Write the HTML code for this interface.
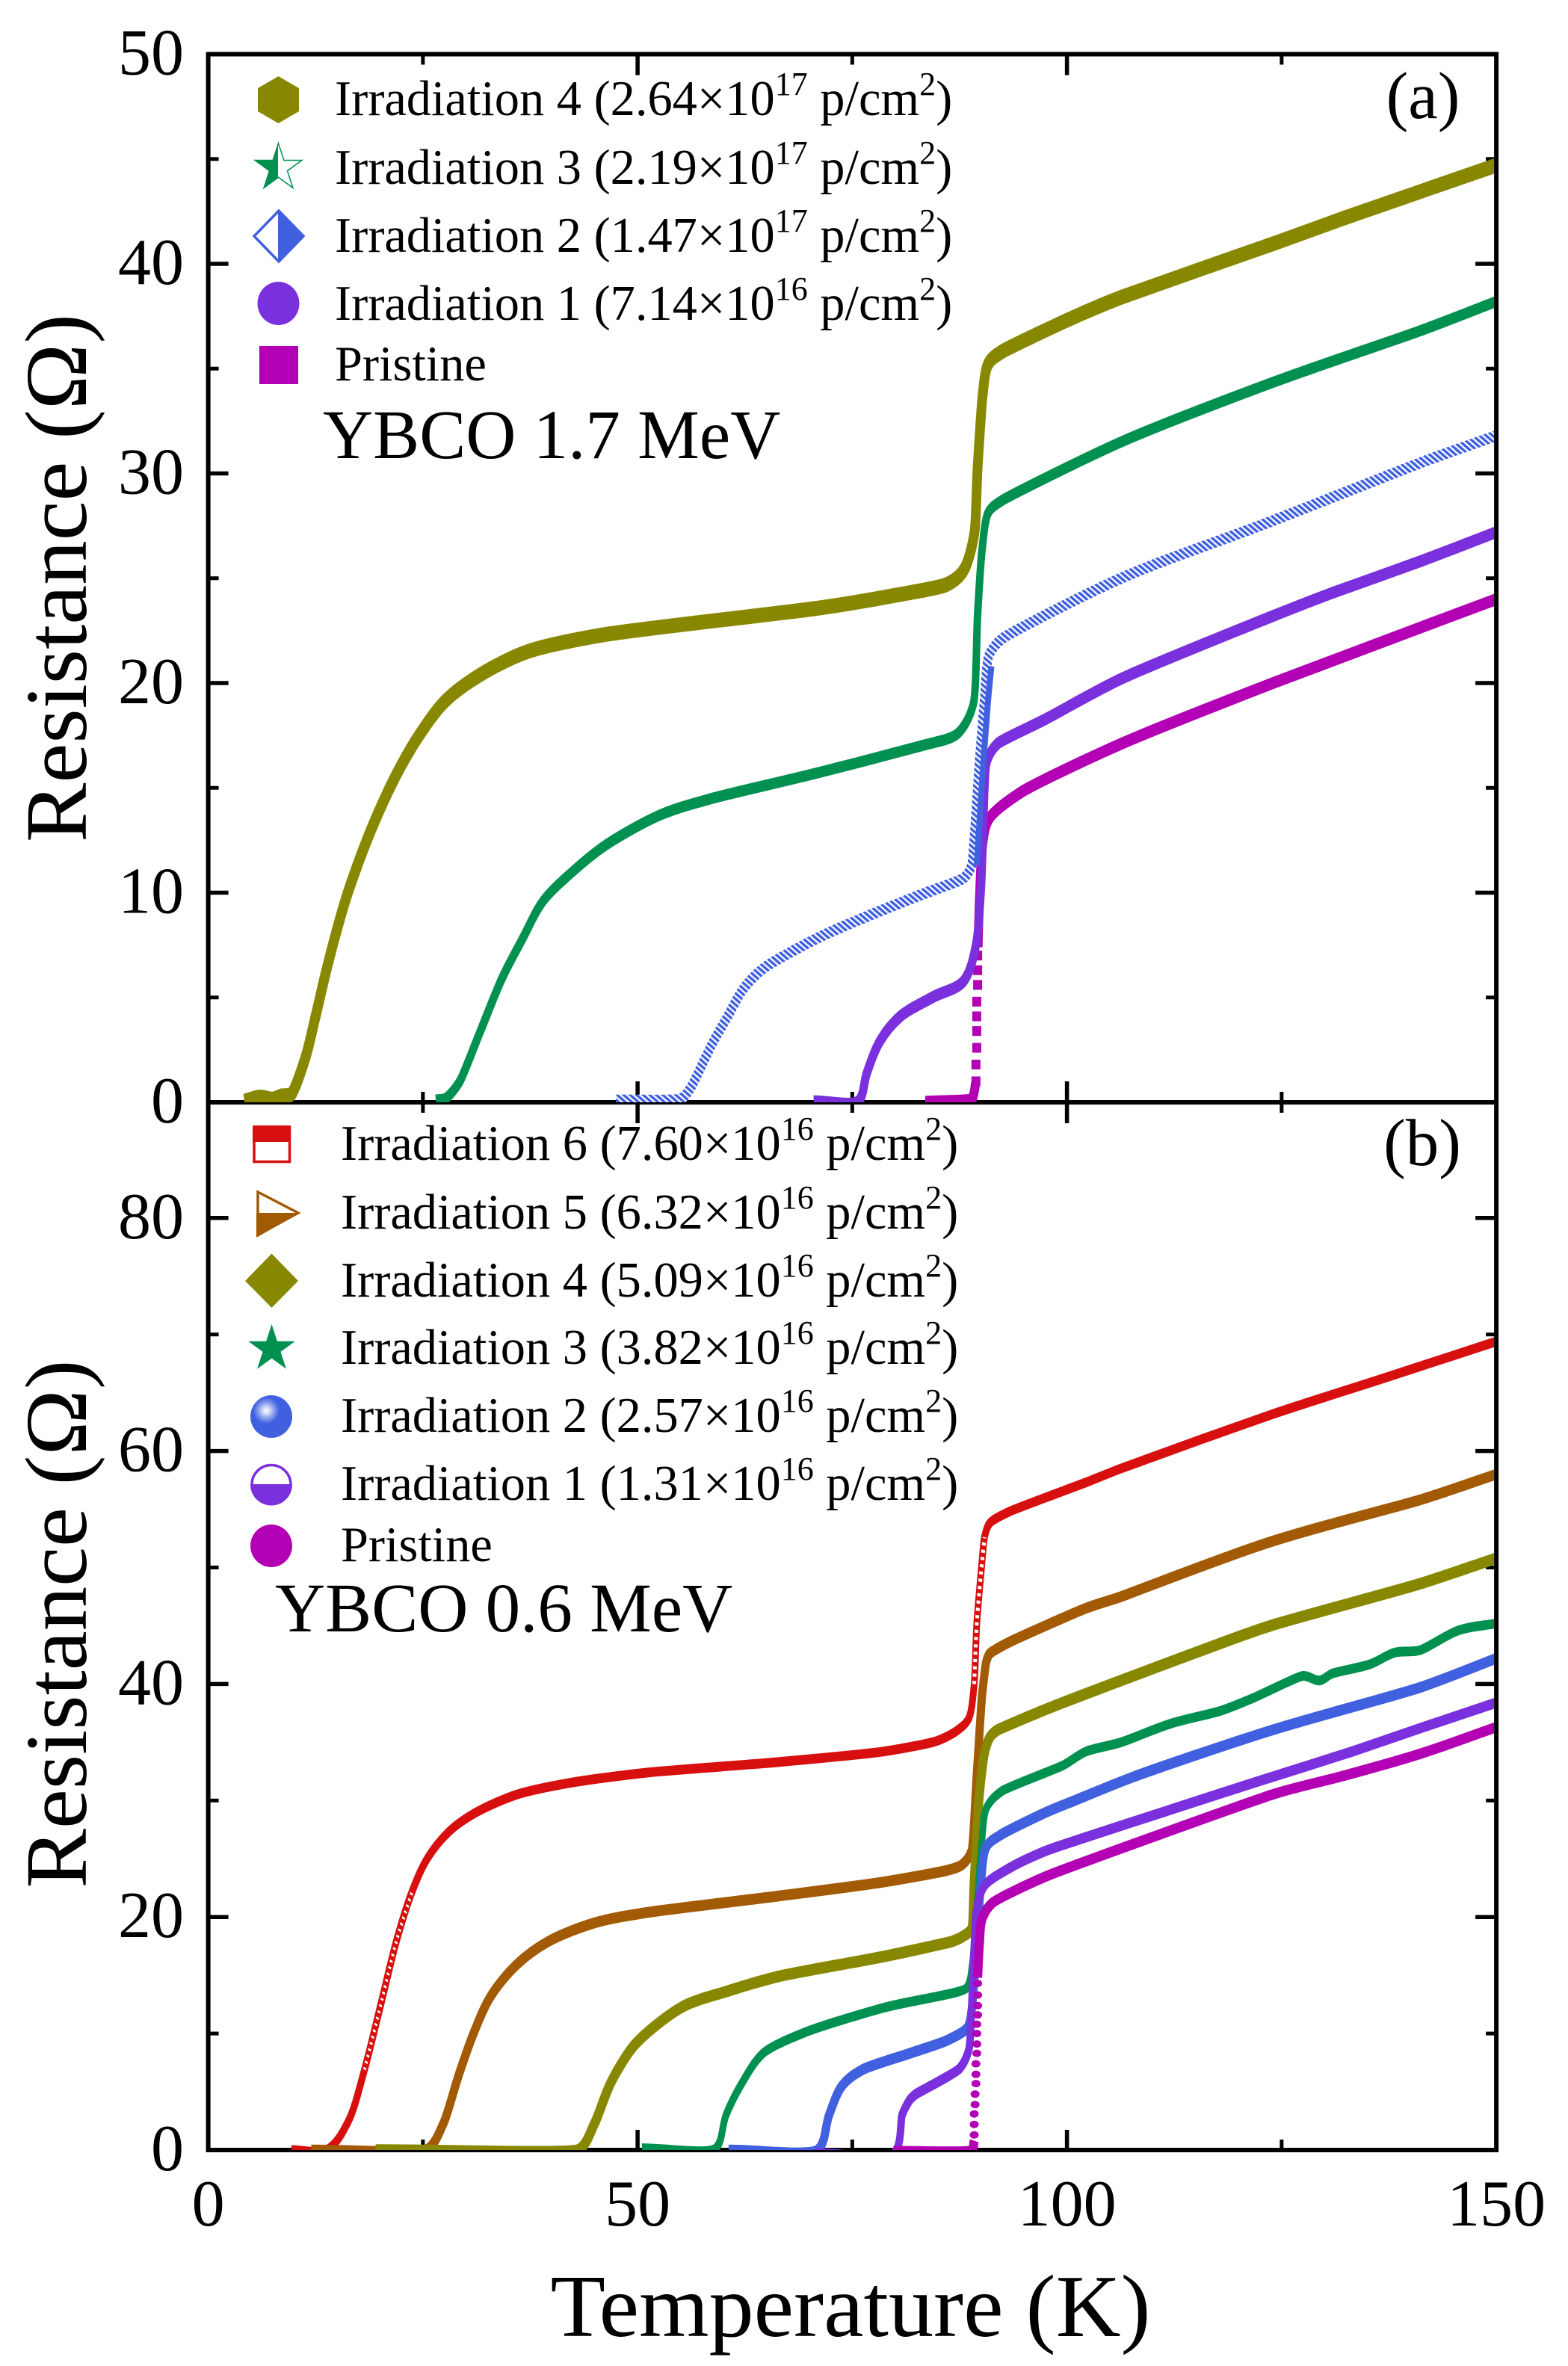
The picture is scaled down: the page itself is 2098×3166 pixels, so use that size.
<!DOCTYPE html>
<html lang="en">
<head>
<meta charset="utf-8">
<title>YBCO resistance vs temperature</title>
<style>
html,body{margin:0;padding:0;background:#fff;}
svg{display:block;}
text{font-family:"Liberation Serif","DejaVu Serif",serif;fill:#000;}
.leg{font-size:66.4px;}
</style>
</head>
<body>
<svg id="chart" xmlns="http://www.w3.org/2000/svg" width="2098" height="3166" viewBox="0 0 2098 3166">
<defs>
<pattern id="hatch" patternUnits="userSpaceOnUse" width="5" height="5" patternTransform="rotate(35)">
<rect width="5" height="5" fill="#fff"/>
<rect width="5" height="3" fill="#4060E0"/>
</pattern>
<clipPath id="clip-a"><rect x="281" y="75" width="1718" height="1400"/></clipPath>
<clipPath id="clip-b"><rect x="281" y="1478" width="1718" height="1399"/></clipPath>
<clipPath id="left-half-a"><rect x="330" y="180" width="42" height="80"/></clipPath>
<clipPath id="right-half-a"><rect x="372" y="270" width="42" height="90"/></clipPath>
<clipPath id="top-half-b"><rect x="330" y="1500" width="70" height="28"/></clipPath>
<clipPath id="bottom-half-tri"><rect x="340" y="1623" width="70" height="40"/></clipPath>
<clipPath id="bottom-half-circ"><rect x="330" y="1986" width="70" height="34"/></clipPath>
<radialGradient id="sphere" cx="0.38" cy="0.36" r="0.62">
<stop offset="0" stop-color="#fff"/><stop offset="0.12" stop-color="#d5dcf8"/><stop offset="0.3" stop-color="#8a9eea"/><stop offset="0.5" stop-color="#4060E0"/><stop offset="1" stop-color="#4060E0"/>
</radialGradient>
</defs>

<g id="axes-layer"></g>
<g id="curves-a" clip-path="url(#clip-a)"></g>
<g id="curves-b" clip-path="url(#clip-b)"></g>
<g id="labels-layer"></g>

<text transform="translate(115,773.5) rotate(-90)" text-anchor="middle" font-size="118" textLength="707" lengthAdjust="spacingAndGlyphs">Resistance (Ω)</text>
<text transform="translate(115,2173) rotate(-90)" text-anchor="middle" font-size="118" textLength="707" lengthAdjust="spacingAndGlyphs">Resistance (Ω)</text>
<text x="1138" y="3126" text-anchor="middle" font-size="119" textLength="803" lengthAdjust="spacingAndGlyphs">Temperature (K)</text>

<text x="1904" y="158" text-anchor="middle" font-size="89">(a)</text>
<text x="1903" y="1559" text-anchor="middle" font-size="89">(b)</text>
<text x="432" y="613" font-size="93">YBCO 1.7 MeV</text>
<text x="368" y="2183" font-size="93">YBCO 0.6 MeV</text>

<g>
<g>
<polygon points="372.5,102 400,118 400,149 372.5,165 345,149 345,118" fill="#888800"/>
<text class="leg" x="448" y="154">Irradiation 4 (2.64×10<tspan dy="-27" font-size="44">17</tspan><tspan dy="27"> p/cm</tspan><tspan dy="-27" font-size="44">2</tspan><tspan dy="27">)</tspan></text>
</g>
<g>
<polygon transform="translate(372.5,224.7) scale(33)" points="0,-1 .2245,-.309 .951,-.309 .363,.118 .588,.809 0,.382 -.588,.809 -.363,.118 -.951,-.309 -.2245,-.309" fill="#fff" stroke="#009050" stroke-width="1.5" vector-effect="non-scaling-stroke"/>
<g clip-path="url(#left-half-a)"><polygon transform="translate(372.5,224.7) scale(33)" points="0,-1 .2245,-.309 .951,-.309 .363,.118 .588,.809 0,.382 -.588,.809 -.363,.118 -.951,-.309 -.2245,-.309" fill="#009050"/></g>
<text class="leg" x="448" y="246">Irradiation 3 (2.19×10<tspan dy="-27" font-size="44">17</tspan><tspan dy="27"> p/cm</tspan><tspan dy="-27" font-size="44">2</tspan><tspan dy="27">)</tspan></text>
</g>
<g>
<polygon points="373,282 406,316 373,350 340,316" fill="#fff" stroke="#4060E0" stroke-width="3.5"/>
<g clip-path="url(#right-half-a)"><polygon points="373,280 408,316 373,352 338,316" fill="#4060E0"/></g>
<text class="leg" x="448" y="337">Irradiation 2 (1.47×10<tspan dy="-27" font-size="44">17</tspan><tspan dy="27"> p/cm</tspan><tspan dy="-27" font-size="44">2</tspan><tspan dy="27">)</tspan></text>
</g>
<g>
<ellipse cx="372.5" cy="406" rx="28" ry="29" fill="#7B30DE"/>
<text class="leg" x="448" y="428">Irradiation 1 (7.14×10<tspan dy="-27" font-size="44">16</tspan><tspan dy="27"> p/cm</tspan><tspan dy="-27" font-size="44">2</tspan><tspan dy="27">)</tspan></text>
</g>
<g>
<rect x="347" y="463" width="52" height="51" fill="#B400B4"/>
<text class="leg" x="448" y="509">Pristine</text>
</g>
</g>

<g>
<g>
<rect x="340" y="1508" width="47.5" height="46.5" fill="#fff" stroke="#D80F0F" stroke-width="3.5"/>
<rect clip-path="url(#top-half-b)" x="338" y="1506" width="51" height="50" fill="#D80F0F"/>
<text class="leg" x="456" y="1552">Irradiation 6 (7.60×10<tspan dy="-27" font-size="44">16</tspan><tspan dy="27"> p/cm</tspan><tspan dy="-27" font-size="44">2</tspan><tspan dy="27">)</tspan></text>
</g>
<g>
<polygon points="345,1595 399,1623 345,1652" fill="#fff" stroke="#A35A05" stroke-width="3.5"/>
<polygon clip-path="url(#bottom-half-tri)" points="343,1590 402,1623 343,1656" fill="#A35A05"/>
<text class="leg" x="456" y="1644">Irradiation 5 (6.32×10<tspan dy="-27" font-size="44">16</tspan><tspan dy="27"> p/cm</tspan><tspan dy="-27" font-size="44">2</tspan><tspan dy="27">)</tspan></text>
</g>
<g>
<polygon points="363.5,1677.5 399,1714 363.5,1750 328,1714" fill="#888800"/>
<text class="leg" x="456" y="1735">Irradiation 4 (5.09×10<tspan dy="-27" font-size="44">16</tspan><tspan dy="27"> p/cm</tspan><tspan dy="-27" font-size="44">2</tspan><tspan dy="27">)</tspan></text>
</g>
<g>
<polygon transform="translate(363.5,1805) scale(33)" points="0,-1 .2245,-.309 .951,-.309 .363,.118 .588,.809 0,.382 -.588,.809 -.363,.118 -.951,-.309 -.2245,-.309" fill="#009050"/>
<text class="leg" x="456" y="1825">Irradiation 3 (3.82×10<tspan dy="-27" font-size="44">16</tspan><tspan dy="27"> p/cm</tspan><tspan dy="-27" font-size="44">2</tspan><tspan dy="27">)</tspan></text>
</g>
<g>
<ellipse cx="363" cy="1895.5" rx="28" ry="28.5" fill="url(#sphere)"/>
<text class="leg" x="456" y="1916">Irradiation 2 (2.57×10<tspan dy="-27" font-size="44">16</tspan><tspan dy="27"> p/cm</tspan><tspan dy="-27" font-size="44">2</tspan><tspan dy="27">)</tspan></text>
</g>
<g>
<ellipse cx="363" cy="1986.5" rx="26" ry="26" fill="#fff" stroke="#7B30DE" stroke-width="3.5"/>
<ellipse clip-path="url(#bottom-half-circ)" cx="363" cy="1986.5" rx="28" ry="28" fill="#7B30DE"/>
<text class="leg" x="456" y="2007">Irradiation 1 (1.31×10<tspan dy="-27" font-size="44">16</tspan><tspan dy="27"> p/cm</tspan><tspan dy="-27" font-size="44">2</tspan><tspan dy="27">)</tspan></text>
</g>
<g>
<ellipse cx="363" cy="2068.5" rx="28" ry="28.5" fill="#B400B4"/>
<text class="leg" x="456" y="2089">Pristine</text>
</g>
</g>
</svg>

<script>
// ---- tick labels ----
var xMajorTicks = [0, 50, 100, 150];
var xMinorTicks = [25, 75, 125];
var yMajorTicksA = [0, 10, 20, 30, 40, 50];
var yMinorTicksA = [5, 15, 25, 35, 45];
var yMajorTicksB = [0, 20, 40, 60, 80];
var yMinorTicksB = [10, 30, 50, 70];

// ---- panel (a) series: temperature (K) / resistance (ohm); null marks a gap ----
var a4T = [4.2,6,7.5,8.5,9.7,11.3,12.5,13.7,14.9,16.1,18,19.8,22,24.4,27.5,31.7,37.2,46,63.6,71.5,80.2,86,88,89.2,89.6,90.2,90.8,92.4,100.5,106.3,124.3,132.4,150];
var a4R = [0.05,0.25,0.15,0.3,0.4,2.1,4.1,6.2,8.1,9.8,12,13.8,15.7,17.4,19.1,20.4,21.5,22.3,23.2,23.6,24.2,24.7,25.4,27.1,30.3,33.8,35.2,35.8,37.4,38.4,41,42.2,44.7];
var a3T = [26.5,27.7,29.3,31.7,34.2,36.6,39,42.7,46.4,52.6,58.7,70.8,83,87.3,89.1,89.6,90.1,90.8,92.4,106.3,123.7,141.1,150];
var a3R = [0.1,0.2,1,3.4,5.9,7.8,9.6,11.1,12.3,13.7,14.5,15.7,17,17.6,19,23.3,26.3,28.1,28.7,31.5,34.3,36.8,38.2];
var a2T = [47.5,55,56.2,58.7,60.5,62.3,64.7,70.8,76.9,83,88,88.9,89.8,90.4,90.9,92.4,106.3,123.7,141.1,150];
var a2R = [0.1,0.15,0.7,2.8,4.1,5.4,6.4,7.8,8.9,9.9,10.7,11.3,16.3,19.3,21.3,22.1,25,27.7,30.5,31.8];
var a2SolidT = [89.5,90.2,90.8,91.2];
var a2SolidR = [11.3,15.8,19.1,20.8];
var a1T = [70.5,75.7,76.7,78.2,80.6,84.3,88,89.4,90,90.4,90.7,91.9,97.6,106.3,124,130.9,141.1,150];
var a1R = [0.05,0.05,1.4,2.9,4.1,5,5.8,7.5,10.3,15,16.3,17.1,18.3,20.2,23.2,24.3,25.8,27.2];
var a0T = [83.5,88.9,89.2,89.35,null,89.65,89.7,90.1,90.9,94.7,106.3,124,150];
var a0R = [0.02,0.14,0.5,0.9,null,7.4,8.3,12,13.5,14.8,17.1,20,24];
var a0MarkT = [89.6,89.6,89.6,89.5,89.5,89.5,89.5,89.4,89.4];
var a0MarkR = [7,6.3,5.6,4.8,4.1,3.4,2.6,1.8,1];

// ---- panel (b) series ----
var b6T = [9.7,13.9,16.4,18.2,20,21.9,23.7,25.5,28,31,35.9,42,51.2,66.4,78.6,84.8,87.2,88.6,89.2,89.5,90,90.4,91,93.3,102.2,106.3,123.7,136.7,150];
var b6R = [0,0.05,2.6,6.9,12.2,17.9,22.1,25,27.3,28.9,30.5,31.5,32.4,33.3,34.2,35.1,36,37.1,40,45.2,49.6,52.6,53.8,54.8,57.3,58.5,63.1,66.2,69.4];
var b6HollowT = [18.2,20,21.9,23.7];
var b6HollowR = [6.9,12.2,17.9,22.1];
var b6HollowT2 = [89.2,89.5,90,90.4];
var b6HollowR2 = [40,45.2,49.6,52.6];
var b5T = [12,25.5,27.4,29.2,31,32.9,35.9,39.6,45,51.2,66.4,78.6,86,87.8,88.9,89.5,90.1,90.6,91,93.3,102.2,106.3,123.7,141.1,150];
var b5R = [0,0.05,2.3,6.5,10.2,13.2,15.9,17.9,19.5,20.4,21.8,23,24,24.5,25.7,32.2,38.9,41.9,42.6,43.6,46.5,47.5,52.2,55.8,58];
var b4T = [19.5,43.2,45,46.9,49.4,51.8,55.5,60.3,66.4,78.6,86.6,87.8,88.9,89.2,89.8,90.4,91,91.8,97.8,106.3,115,123.7,141.1,150];
var b4R = [0,0.05,2.3,5.8,8.8,10.5,12.4,13.6,14.9,16.6,17.9,18.3,19,23.1,30.5,34.1,35.4,36,37.9,40.3,42.7,45,48.6,50.8];
var b3T = [50.5,59.1,60.3,62.2,64.6,69.5,78.6,88.3,89,90,90.6,92.4,99.5,102.2,106.3,112.1,117.9,121.7,127.5,129.4,130.9,135.3,138.2,141.1,145.6,150];
var b3R = [0.15,0.15,3,5.8,8.3,10.1,12.2,13.9,16,25.7,29.3,30.8,33,34.2,35,36.6,37.7,38.8,40.7,40.3,40.9,41.7,42.7,42.9,44.6,45.2];
var b2T = [60.6,71,72.3,73.8,76.2,81.7,86,88.4,88.9,89.5,90,90.6,92.4,97.6,100.9,108,123.7,141.1,150];
var b2R = [0,0.02,3,5.5,6.9,8.3,9.4,10.5,12,17.5,23.1,26,27.1,29,30,32.1,36,39.7,42.2];
var b1T = [70.7,79.9,80.8,81.7,82.4,87.5,88.6,89.1,89.5,90.4,93.3,97.6,114.1,122.5,133.2,141.1,150];
var b1R = [-0.3,-0.3,3,4.3,4.8,7,8.7,15.7,20.8,22.7,24.2,25.7,29.7,31.7,34.2,36.2,38.4];
var b0T = [79.8,88.9,89.2,null,89.6,89.8,90.1,91.3,97.6,124.3,132.1,141.1,150];
var b0R = [-0.1,-0.05,0.8,null,14.8,17.6,19.8,21.2,23.5,30.6,32.1,34,36.3];
var b0MarkT = [89.2,89.2,89.2,89.3,89.3,89.4,89.4,89.4,89.5,89.5,89.5,89.5,89.6,89.6,89.6,89.6];
var b0MarkR = [1.3,2.2,3.1,3.9,4.8,5.7,6.5,7.4,8.3,9.1,10,10.8,11.6,12.4,13.3,14.3];

// ---- scales ----
function xScale(t){ return 278.6 + t * 11.49; }
function yScaleA(r){ return 1475 - r * 28.05; }
function yScaleB(r){ return 2877 - r * 15.59; }

var NS = 'http://www.w3.org/2000/svg';
var axesLayer = document.getElementById('axes-layer');
var labelsLayer = document.getElementById('labels-layer');
var curvesA = document.getElementById('curves-a');
var curvesB = document.getElementById('curves-b');

function unit(dx, dy){
  var n = Math.sqrt(dx * dx + dy * dy) || 1;
  return [dx / n, dy / n];
}

function segLen(p, q){
  return Math.sqrt((q[0] - p[0]) * (q[0] - p[0]) + (q[1] - p[1]) * (q[1] - p[1]));
}

// smooth path through a run of points; handle lengths are limited by the shorter adjacent segment
function smoothRun(pts){
  var d = 'M' + pts[0][0].toFixed(2) + ' ' + pts[0][1].toFixed(2);
  if (pts.length < 2) return d;
  var tan = [];
  for (var i = 0; i < pts.length; i++){
    var a = pts[Math.max(i - 1, 0)], b = pts[i], c = pts[Math.min(i + 1, pts.length - 1)];
    var u1 = unit(b[0] - a[0], b[1] - a[1]), u2 = unit(c[0] - b[0], c[1] - b[1]);
    tan.push(unit(u1[0] + u2[0], u1[1] + u2[1]));
  }
  for (var j = 0; j < pts.length - 1; j++){
    var p = pts[j], q = pts[j + 1];
    var len = segLen(p, q);
    var hp = (j > 0 ? Math.min(len, segLen(pts[j - 1], p)) : len) / 3;
    var hq = (j + 2 < pts.length ? Math.min(len, segLen(q, pts[j + 2])) : len) / 3;
    d += 'C' + (p[0] + tan[j][0] * hp).toFixed(2) + ' ' + (p[1] + tan[j][1] * hp).toFixed(2) + ' ' +
         (q[0] - tan[j + 1][0] * hq).toFixed(2) + ' ' + (q[1] - tan[j + 1][1] * hq).toFixed(2) + ' ' +
         q[0].toFixed(2) + ' ' + q[1].toFixed(2);
  }
  return d;
}

function pathFrom(T, R, yScale, ky){
  var d = '', run = [];
  for (var i = 0; i < T.length; i++){
    if (T[i] === null){ if (run.length) d += smoothRun(run); run = []; continue; }
    run.push([xScale(T[i]), yScale(R[i]) * ky]);
  }
  if (run.length) d += smoothRun(run);
  return d;
}

// w = horizontal band width, v = vertical band width (markers in the source are taller than wide)
function drawCurve(parent, name, T, R, yScale, color, w, v, dash){
  var p = document.createElementNS(NS, 'path');
  
  
  p.setAttribute('d', pathFrom(T, R, yScale, w / v));
  p.setAttribute('transform', 'scale(1,' + (v / w) + ')');
  p.setAttribute('fill', 'none');
  p.setAttribute('stroke', color);
  p.setAttribute('stroke-width', w);
  p.setAttribute('stroke-linejoin', 'round');
  if (dash) p.setAttribute('stroke-dasharray', dash);
  parent.appendChild(p);
}

function drawSquares(parent, name, T, R, yScale, color){
  for (var i = 0; i < T.length; i++){
    var m = document.createElementNS(NS, 'rect');
    
    
    m.setAttribute('x', xScale(T[i]) - 6);
    m.setAttribute('y', yScale(R[i]) - 6.5);
    m.setAttribute('width', 12);
    m.setAttribute('height', 13);
    m.setAttribute('fill', color);
    parent.appendChild(m);
  }
}

function drawDots(parent, name, T, R, yScale, color){
  for (var i = 0; i < T.length; i++){
    var m = document.createElementNS(NS, 'ellipse');
    
    
    m.setAttribute('cx', xScale(T[i]));
    m.setAttribute('cy', yScale(R[i]));
    m.setAttribute('rx', 6);
    m.setAttribute('ry', 5);
    m.setAttribute('fill', color);
    parent.appendChild(m);
  }
}

function line(x1, y1, x2, y2, w, name){
  var l = document.createElementNS(NS, 'line');
  
  
  l.setAttribute('x1', x1);
  l.setAttribute('y1', y1);
  l.setAttribute('x2', x2);
  l.setAttribute('y2', y2);
  l.setAttribute('stroke', '#000');
  l.setAttribute('stroke-width', w);
  axesLayer.appendChild(l);
}

function label(txt, x, y, anchor, name){
  var t = document.createElementNS(NS, 'text');
  
  
  t.setAttribute('x', x);
  t.setAttribute('y', y);
  t.setAttribute('text-anchor', anchor);
  t.setAttribute('font-size', '88');
  t.textContent = txt;
  labelsLayer.appendChild(t);
}

// ---- frames ----
var L = xScale(0), Rt = xScale(150), topA = yScaleA(50), midY = 1475, botB = yScaleB(0);
line(L, topA - 3, L, botB + 3, 6, 'left-spine');
line(Rt, topA - 3, Rt, botB + 3, 6, 'right-spine');
line(L, topA, Rt, topA, 6, 'top-spine');
line(L, midY, Rt, midY, 6, 'middle-spine');
line(L, botB, Rt, botB, 6, 'bottom-spine');

// ---- x ticks ----
xMajorTicks.forEach(function(v){
  var x = xScale(v);
  if (v > 0 && v < 150){
    line(x, topA, x, topA + 28, 5.5, 'x-major-tick');
    line(x, midY - 28, x, midY + 28, 5.5, 'x-major-tick');
    line(x, botB, x, botB - 27, 5.5, 'x-major-tick');
  }
  label(String(v), x, 2978, 'middle', 'x-tick-label');
});
xMinorTicks.forEach(function(v){
  var x = xScale(v);
  line(x, topA, x, topA + 14, 5, 'x-minor-tick');
  line(x, midY - 14, x, midY + 14, 5, 'x-minor-tick');
  line(x, botB, x, botB - 14, 5, 'x-minor-tick');
});

// ---- y ticks ----
function yTicks(major, minor, yScale, panel){
  major.forEach(function(v){
    var y = yScale(v);
    if (y > topA + 3 && y < yScale(0) - 3){
      line(L, y, L + 27, y, 5.5, 'y-major-tick-' + panel);
      line(Rt, y, Rt - 28, y, 5.5, 'y-major-tick-' + panel);
    }
    label(String(v), 246, y + 27, 'end', 'y-tick-label-' + panel);
  });
  minor.forEach(function(v){
    var y = yScale(v);
    line(L, y, L + 14, y, 5, 'y-minor-tick-' + panel);
    line(Rt, y, Rt - 14, y, 5, 'y-minor-tick-' + panel);
  });
}
yTicks(yMajorTicksA, yMinorTicksA, yScaleA, 'a');
yTicks(yMajorTicksB, yMinorTicksB, yScaleB, 'b');

// ---- panel (a) curves ----
var magenta = '#B400B4', purple = '#7B30DE', blue = '#4060E0', green = '#009050', olive = '#888800', brown = '#A35A05', red = '#D80F0F';
drawCurve(curvesA, 'series-a-pristine', a0T, a0R, yScaleA, magenta, 12, 16);
drawSquares(curvesA, 'series-a-pristine-marker', a0MarkT, a0MarkR, yScaleA, magenta);
drawCurve(curvesA, 'series-a-irradiation-1', a1T, a1R, yScaleA, purple, 11, 16);
drawCurve(curvesA, 'series-a-irradiation-2', a2T, a2R, yScaleA, 'url(#hatch)', 12, 15);
drawCurve(curvesA, 'series-a-irradiation-2-solid', a2SolidT, a2SolidR, yScaleA, blue, 8, 10);
drawCurve(curvesA, 'series-a-irradiation-3', a3T, a3R, yScaleA, green, 10, 15);
drawCurve(curvesA, 'series-a-irradiation-4', a4T, a4R, yScaleA, olive, 13, 20);

// ---- panel (b) curves ----
drawCurve(curvesB, 'series-b-irradiation-6', b6T, b6R, yScaleB, red, 9, 13);
drawCurve(curvesB, 'series-b-irradiation-6-hollow', b6HollowT, b6HollowR, yScaleB, '#fff', 4, 6, '2 4');
drawCurve(curvesB, 'series-b-irradiation-6-hollow', b6HollowT2, b6HollowR2, yScaleB, '#fff', 5, 7, '3 4');
drawCurve(curvesB, 'series-b-irradiation-5', b5T, b5R, yScaleB, brown, 11, 14.5);
drawCurve(curvesB, 'series-b-irradiation-4', b4T, b4R, yScaleB, olive, 12, 15.5);
drawCurve(curvesB, 'series-b-irradiation-3', b3T, b3R, yScaleB, green, 9, 13);
drawCurve(curvesB, 'series-b-irradiation-2', b2T, b2R, yScaleB, blue, 11, 14.5);
drawCurve(curvesB, 'series-b-irradiation-1', b1T, b1R, yScaleB, purple, 10, 14);
drawCurve(curvesB, 'series-b-pristine', b0T, b0R, yScaleB, magenta, 12, 14);
drawDots(curvesB, 'series-b-pristine-marker', b0MarkT, b0MarkR, yScaleB, magenta);
</script>
</body>
</html>
